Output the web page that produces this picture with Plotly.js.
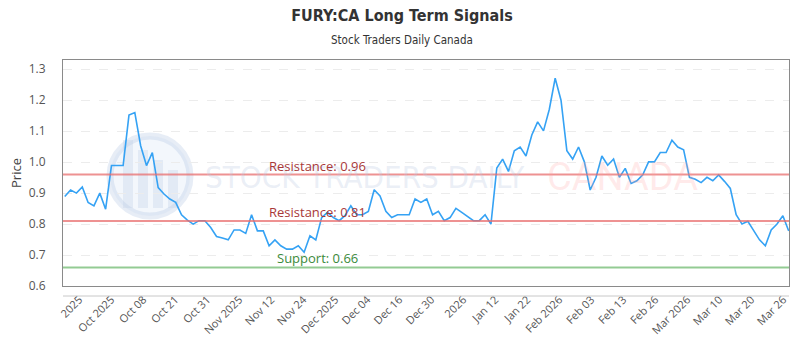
<!DOCTYPE html>
<html>
<head>
<meta charset="utf-8">
<script src="https://cdn.plot.ly/plotly-3.0.1.min.js"></script>
<style>html,body{margin:0;padding:0;background:#fff;}#chart{width:800px;height:350px;}</style>
</head>
<body>
<div id="chart"></div>
<script>
// Closing prices (one per trading session)
const prices = [
  0.889,0.910,0.900,0.920,0.870,0.859,0.900,0.848,0.989,0.989,
  0.989,1.152,1.160,1.053,0.989,1.031,0.918,0.897,0.881,0.870,
  0.830,0.813,0.800,0.811,0.811,0.789,0.760,0.755,0.749,0.781,
  0.781,0.770,0.830,0.778,0.778,0.730,0.749,0.730,0.719,0.719,
  0.730,0.709,0.762,0.749,0.821,0.838,0.821,0.811,0.827,0.859,
  0.830,0.830,0.841,0.911,0.891,0.841,0.821,0.830,0.830,0.830,
  0.881,0.870,0.881,0.830,0.841,0.811,0.821,0.851,0.838,0.824,
  0.811,0.811,0.830,0.800,0.981,1.010,0.970,1.037,1.049,1.020,
  1.088,1.130,1.101,1.171,1.271,1.200,1.037,1.010,1.049,1.001,
  0.910,0.951,1.020,0.990,1.010,0.951,0.980,0.931,0.940,0.959,
  1.001,1.001,1.031,1.031,1.071,1.049,1.040,0.951,0.945,0.934,
  0.951,0.940,0.959,0.938,0.915,0.830,0.800,0.809,0.781,0.749,
  0.730,0.781,0.800,0.827,0.778
];
const sessions = prices.map((_, i) => i);

const tickLabels = ["2025","Oct 2025","Oct 08","Oct 21","Oct 31","Nov 2025","Nov 12","Nov 24",
  "Dec 2025","Dec 04","Dec 16","Dec 30","2026","Jan 12","Jan 22","Feb 2026","Feb 03","Feb 13",
  "Feb 26","Mar 2026","Mar 10","Mar 20","Mar 26"];

const resistanceLevels = [0.96, 0.81];
const supportLevels = [0.66];

const titleText = "FURY:CA Long Term Signals";
const subtitleText = "Stock Traders Daily Canada";

// tick placement (evenly spaced along the session index)
const tickStart = 2.5, tickStep = 5.48;
const tickVals = tickLabels.map((_, i) => tickStart + i * tickStep);

const PX_L = 63, PX_W = 726, PX_T = 60, PX_H = 226;
const px = x => (x - PX_L) / PX_W;
const py = y => (PX_T + PX_H - y) / PX_H;

const COND = 'DejaVu Sans Condensed, Roboto Condensed, Roboto, sans-serif';

const shapes = [];
const annotations = [];

// watermark logo
shapes.push({type:'circle', xref:'paper', yref:'paper', x0:px(110), x1:px(190), y0:py(216), y1:py(136),
  line:{color:'rgba(175,195,225,0.30)', width:7}, fillcolor:'rgba(215,228,245,0.30)', layer:'below'});
[[128,140],[143,150],[158,160],[173,170]].forEach(b => {
  shapes.push({type:'rect', xref:'paper', yref:'paper', x0:px(b[0]-5), x1:px(b[0]+5), y0:py(208), y1:py(b[1]),
    line:{width:0}, fillcolor:'rgba(190,205,230,0.30)', layer:'below'});
});
annotations.push({xref:'paper', yref:'paper', x:px(365), y:py(177), text:'STOCK TRADERS DAILY', showarrow:false,
  font:{family:COND, size:31, color:'rgba(185,200,225,0.30)'}, xanchor:'center', yanchor:'middle'});
annotations.push({xref:'paper', yref:'paper', x:px(622), y:py(177), text:'CANADA', showarrow:false,
  font:{family:'Roboto', size:38, color:'rgba(255,160,160,0.22)'}, xanchor:'center', yanchor:'middle'});

resistanceLevels.forEach(v => {
  shapes.push({type:'line', xref:'paper', yref:'y', x0:0, x1:1, y0:v, y1:v,
    line:{color:'rgba(232,110,110,0.75)', width:2}});
  annotations.push({xref:'x', yref:'y', x:43.3, y:v, yshift:9, text:'Resistance: ' + v.toFixed(2), showarrow:false,
    font:{family:'Open Sans', size:13, color:'#a83838'}, xanchor:'center', yanchor:'middle'});
});
supportLevels.forEach(v => {
  shapes.push({type:'line', xref:'paper', yref:'y', x0:0, x1:1, y0:v, y1:v,
    line:{color:'rgba(120,190,120,0.8)', width:2}});
  annotations.push({xref:'x', yref:'y', x:43.3, y:v, yshift:9, text:'Support: ' + v.toFixed(2), showarrow:false,
    font:{family:'Open Sans', size:13, color:'#3a8a3a'}, xanchor:'center', yanchor:'middle'});
});

// secondary axis baseline below the frame
shapes.push({type:'line', xref:'paper', yref:'paper', x0:0, x1:1, y0:py(296), y1:py(296),
  line:{color:'#c8c8c8', width:1}});

annotations.push({xref:'paper', yref:'paper', x:px(402), y:py(40), text:subtitleText, showarrow:false,
  font:{family:COND, size:11.5, color:'#333'}, xanchor:'center', yanchor:'middle'});

const trace = {
  x: sessions, y: prices, type:'scatter', mode:'lines',
  line:{color:'#35a2f4', width:1.6}, hoverinfo:'skip', showlegend:false
};

const layout = {
  width:800, height:350,
  margin:{l:PX_L, r:800-PX_L-PX_W, t:PX_T, b:350-PX_T-PX_H},
  paper_bgcolor:'#fff', plot_bgcolor:'#fff',
  title:{text:'<b>' + titleText + '</b>', x:402/800, xanchor:'center', y:1-15/350, yanchor:'middle', yref:'container',
    font:{family:COND, size:16, color:'#333'}},
  xaxis:{range:[-0.3, 124.05], tickvals:tickVals, ticktext:tickLabels, tickangle:-45,
    showgrid:false, zeroline:false, showline:true, linecolor:'#8a8a8a', linewidth:1, mirror:true,
    ticks:'outside', ticklen:2, tickcolor:'rgba(0,0,0,0)',
    tickfont:{family:'Open Sans', size:11, color:'#555'}},
  yaxis:{range:[0.6, 1.33], tickvals:[0.6,0.7,0.8,0.9,1.0,1.1,1.2,1.3], ticktext:['0.6','0.7','0.8','0.9','1.0','1.1','1.2','1.3'],
    showgrid:true, gridcolor:'#ececec', griddash:'dash', zeroline:false,
    showline:true, linecolor:'#8a8a8a', linewidth:1, mirror:true,
    ticks:'outside', ticklen:14, tickcolor:'rgba(0,0,0,0)',
    tickfont:{family:'Open Sans', size:12, color:'#555'},
    title:{text:'Price', font:{family:'Open Sans', size:13, color:'#444'}, standoff:4}},
  shapes:shapes, annotations:annotations
};

Plotly.newPlot('chart', [trace], layout, {displayModeBar:false, staticPlot:true});
</script>
</body>
</html>
